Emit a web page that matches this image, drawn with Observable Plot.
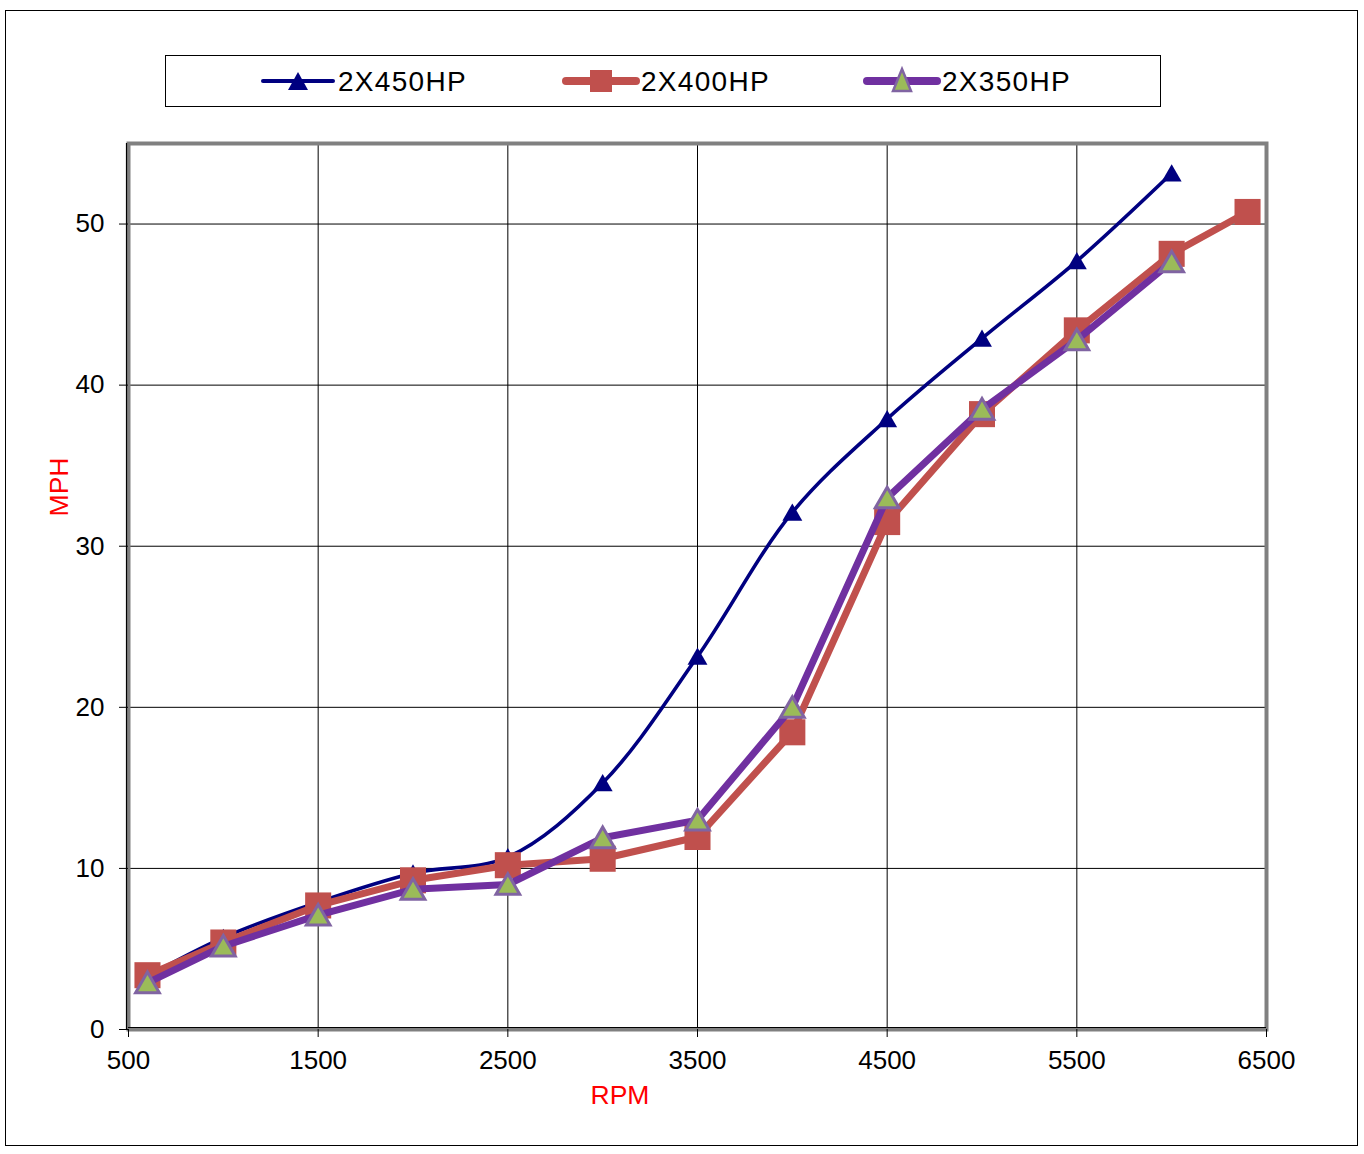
<!DOCTYPE html>
<html>
<head>
<meta charset="utf-8">
<script src="https://cdn.jsdelivr.net/npm/d3@7"></script>
<script src="https://cdn.jsdelivr.net/npm/@observablehq/plot@0.6"></script>
<style>
  html, body { margin: 0; padding: 0; background: #fff; }
  body { font-family: "Liberation Sans", Arial, sans-serif; }
  #wrap { position: relative; width: 1364px; height: 1154px; overflow: hidden; }
  #outer { position: absolute; left: 5px; top: 10px; width: 1353px; height: 1136px; border: 1px solid #000; box-sizing: border-box; pointer-events: none; }
  #chart { position: absolute; left: 0; top: 0; }
  #legend { position: absolute; left: 165px; top: 55px; width: 996px; height: 52px; border: 1px solid #000; box-sizing: border-box; background: #fff; }
  .axtitle { position: absolute; color: #ff0000; font-size: 26.5px; line-height: 1; white-space: nowrap; }
  #xtitle { left: 620px; top: 1082px; transform: translateX(-50%); }
  #ytitle { left: 59px; top: 487px; transform: translate(-50%, -50%) rotate(-90deg); }
</style>
</head>
<body>
<div id="wrap">
  <div id="chart"></div>
  <div id="outer"></div>
  <div id="legend"></div>
  <div class="axtitle" id="xtitle">RPM</div>
  <div class="axtitle" id="ytitle">MPH</div>
</div>
<script>
// ---- data ----
const seriesNames = ["2X450HP", "2X400HP", "2X350HP"];
const rpm450 = [600, 1000, 1500, 2000, 2500, 3000, 3500, 4000, 4500, 5000, 5500, 6000];
const mph450 = [3.3, 5.7, 7.9, 9.7, 10.7, 15.3, 23.15, 32.1, 37.9, 42.9, 47.7, 53.15];
const rpm400 = [600, 1000, 1500, 2000, 2500, 3000, 3500, 4000, 4500, 5000, 5500, 6000, 6400];
const mph400 = [3.37, 5.4, 7.7, 9.26, 10.2, 10.6, 11.95, 18.45, 31.5, 38.2, 43.4, 48.15, 50.75];
const rpm350 = [600, 1000, 1500, 2000, 2500, 3000, 3500, 4000, 4500, 5000, 5500, 6000];
const mph350 = [2.9, 5.17, 7.1, 8.7, 9.0, 11.9, 13.0, 20.0, 33.0, 38.5, 42.8, 47.65];
const xTicks = [500, 1500, 2500, 3500, 4500, 5500, 6500];
const yTicks = [0, 10, 20, 30, 40, 50];

const toRows = (xs, ys) => xs.map((x, i) => ({x, y: ys[i]}));
const d450 = toRows(rpm450, mph450);
const d400 = toRows(rpm400, mph400);
const d350 = toRows(rpm350, mph350);

const navy = "#000080", red = "#C0504D", purple = "#7030A0", green = "#9BBB59", lav = "#8064A2";

const chart = Plot.plot({
  width: 1364,
  height: 1154,
  marginLeft: 128,
  marginRight: 98,
  marginTop: 143,
  marginBottom: 125,
  style: {fontFamily: "'Liberation Sans', Arial, sans-serif", fontSize: "26px", color: "#000", background: "transparent", overflow: "visible"},
  x: {domain: [500, 6500]},
  y: {domain: [0, 55]},
  marks: [
    Plot.ruleX(xTicks.slice(1, -1), {stroke: "#000", strokeWidth: 1}),
    Plot.ruleY(yTicks.slice(1), {stroke: "#000", strokeWidth: 1}),
    Plot.frame({stroke: "#808080", strokeWidth: 4}),
    Plot.ruleX([500], {stroke: "#000", strokeWidth: 1.2, dx: -2}),
    Plot.ruleY([0], {stroke: "#000", strokeWidth: 1.2, dy: -2}),
    Plot.axisX({ticks: xTicks, tickSize: 8, tickPadding: 13, tickFormat: d => String(d), label: null, fontSize: 26, stroke: "#000"}),
    Plot.axisY({ticks: yTicks, tickSize: 9, tickPadding: 15, tickFormat: d => String(d), label: null, fontSize: 26, stroke: "#000"}),
    // 2X450HP (smoothed)
    Plot.line(d450, {x: "x", y: "y", stroke: navy, strokeWidth: 3.6, curve: "catmull-rom"}),
    Plot.dot(d450, {x: "x", y: "y", symbol: "triangle", r: 7.4, dy: 2.5, fill: navy, stroke: "none"}),
    // 2X400HP
    Plot.line(d400, {x: "x", y: "y", stroke: red, strokeWidth: 7}),
    Plot.dot(d400, {x: "x", y: "y", symbol: "square", r: 14.7, fill: red, stroke: "none"}),
    // 2X350HP
    Plot.line(d350, {x: "x", y: "y", stroke: purple, strokeWidth: 7}),
    Plot.dot(d350, {x: "x", y: "y", symbol: "triangle", r: 8.8, dy: 3, fill: green, stroke: lav, strokeWidth: 3})
  ]
});
document.getElementById("chart").appendChild(chart);

// ---- legend ----
const lg = d3.select("#legend").append("svg").attr("width", 994).attr("height", 50).style("display", "block");
const entries = [
  {name: seriesNames[0], x0: 97, color: navy, lw: 4, marker: "tri-small"},
  {name: seriesNames[1], x0: 400, color: red, lw: 8, marker: "square"},
  {name: seriesNames[2], x0: 701, color: purple, lw: 8, marker: "tri-green"}
];
const cy = 25;
entries.forEach(e => {
  const g = lg.append("g");
  g.append("line").attr("x1", e.x0).attr("x2", e.x0 + 70).attr("y1", cy).attr("y2", cy)
    .attr("stroke", e.color).attr("stroke-width", e.lw).attr("stroke-linecap", "round");
  const mx = e.x0 + 35;
  if (e.marker === "tri-small") {
    g.append("path").attr("d", `M${mx},${cy - 9} L${mx + 10},${cy + 9} L${mx - 10},${cy + 9} Z`).attr("fill", navy);
  } else if (e.marker === "square") {
    g.append("rect").attr("x", mx - 11).attr("y", cy - 11).attr("width", 22).attr("height", 22).attr("fill", red);
  } else {
    g.append("path").attr("d", `M${mx},${cy - 12} L${mx + 9},${cy + 10} L${mx - 9},${cy + 10} Z`)
      .attr("fill", green).attr("stroke", lav).attr("stroke-width", 2.5);
  }
  g.append("text").attr("x", e.x0 + 75).attr("y", cy + 10)
    .attr("font-family", "'Liberation Sans', Arial, sans-serif").attr("font-size", 28)
    .attr("letter-spacing", "1.3px").attr("fill", "#000").text(e.name);
});
</script>
</body>
</html>
